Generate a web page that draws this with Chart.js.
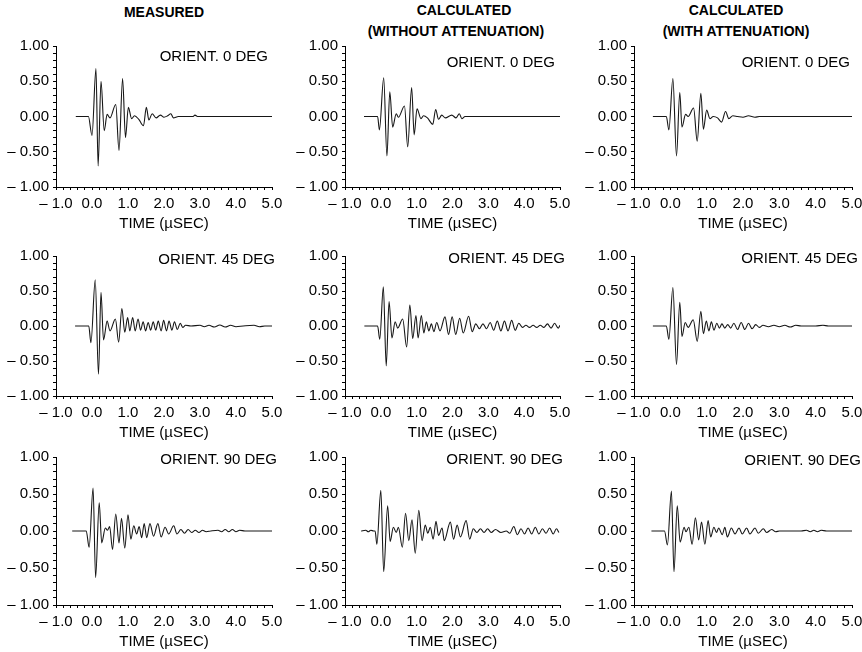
<!DOCTYPE html>
<html>
<head>
<meta charset="utf-8">
<script src="https://cdn.jsdelivr.net/npm/chart.js@4.4.1/dist/chart.umd.min.js"></script>
<style>
  body { margin: 0; background: #fff; width: 862px; height: 652px; position: relative; overflow: hidden;
         font-family: "Liberation Sans", Arial, sans-serif; }
  .head { position: absolute; font-weight: bold; font-size: 14px; line-height: 16px; white-space: nowrap;
          transform: translateX(-50%); color: #000; }
  .panel { position: absolute; }
</style>
</head>
<body>
<div class="head" style="left:164px;top:4px">MEASURED</div>
<div class="head" style="left:464px;top:2px">CALCULATED</div>
<div class="head" style="left:456px;top:23px">(WITHOUT ATTENUATION)</div>
<div class="head" style="left:736px;top:2px">CALCULATED</div>
<div class="head" style="left:736px;top:23px">(WITH ATTENUATION)</div>

<script>
// waveforms: [time in usec, amplitude]
const measured0 = [[-0.45,0],[-0.1,0],[0.0,-0.27],[0.11,0.68],[0.17,-0.70],[0.25,0.50],[0.34,-0.20],[0.42,0.03],[0.5,-0.02],
  [0.66,0.17],[0.75,-0.48],[0.85,0.54],[0.93,-0.30],[1.01,0.13],[1.1,-0.03],[1.18,0.01],[1.3,-0.04],[1.43,-0.13],[1.51,0.13],
  [1.58,-0.05],[1.67,0.04],[1.78,-0.02],[1.9,0.02],[2.0,-0.01],[2.1,0.01],[2.19,0.04],[2.26,-0.02],[2.4,0.0],[2.8,0.0],
  [2.86,0.02],[2.93,0.0],[5.0,0.0]];

const noAtten0 = [[-0.47,0],[-0.09,0],[-0.04,-0.19],[0.08,0.55],[0.17,-0.56],[0.25,0.35],[0.33,-0.15],[0.43,0.04],[0.49,-0.01],
  [0.66,0.15],[0.75,-0.43],[0.86,0.41],[0.93,-0.26],[1.01,0.11],[1.12,-0.03],[1.19,0.01],[1.3,-0.02],[1.45,-0.11],[1.53,0.10],
  [1.61,-0.04],[1.70,0.02],[1.8,-0.02],[1.98,0.02],[2.1,-0.02],[2.19,0.04],[2.26,-0.03],[2.35,0.0],[5.0,0.0]];

const withAtten0 = [[-0.48,0],[-0.11,0],[-0.04,-0.19],[0.07,0.54],[0.17,-0.56],[0.26,0.34],[0.32,-0.15],[0.42,0.03],[0.49,0.0],
  [0.64,0.12],[0.74,-0.35],[0.84,0.33],[0.91,-0.18],[1.0,0.09],[1.09,-0.03],[1.18,0.0],[1.3,-0.02],[1.41,-0.08],[1.52,0.07],
  [1.61,-0.03],[1.72,0.01],[1.85,0.0],[2.0,-0.01],[2.15,0.01],[2.33,-0.01],[2.45,0.0],[5.0,0.0]];

const measured45 = [[-0.47,0],[-0.09,0],[-0.03,-0.24],[0.09,0.66],[0.18,-0.69],[0.25,0.48],[0.32,-0.20],[0.42,0.07],[0.50,-0.07],
  [0.65,0.10],[0.74,-0.23],[0.83,0.25],[0.91,-0.09],[0.99,0.12],[1.05,-0.07],[1.13,0.12],[1.20,-0.07],[1.28,0.10],[1.35,-0.06],
  [1.42,0.06],[1.49,-0.07],[1.56,0.05],[1.63,-0.06],[1.70,0.06],[1.77,-0.06],[1.84,0.07],[1.92,-0.07],[1.99,0.08],[2.07,-0.07],
  [2.14,0.07],[2.22,-0.06],[2.29,0.06],[2.37,-0.05],[2.45,0.04],[2.52,-0.02],[2.6,0.01],[2.75,0.0],[3.0,0.01],[3.12,-0.01],
  [3.25,0.01],[3.4,-0.015],[3.55,0.015],[3.7,-0.015],[3.85,0.01],[4.0,-0.01],[4.2,0.0],[4.5,0.01],[4.65,-0.01],[4.8,0.0],[5.0,0.0]];

const noAtten45 = [[-0.46,0],[-0.09,0],[-0.03,-0.19],[0.07,0.56],[0.15,-0.57],[0.23,0.35],[0.31,-0.17],[0.40,0.06],[0.47,-0.03],
  [0.61,0.10],[0.72,-0.30],[0.81,0.30],[0.89,-0.18],[0.98,0.15],[1.04,-0.17],[1.13,0.15],[1.20,-0.10],[1.27,0.06],[1.34,-0.07],
  [1.41,0.03],[1.48,-0.08],[1.56,0.05],[1.65,-0.07],[1.79,0.13],[1.89,-0.12],[1.99,0.13],[2.09,-0.12],[2.2,0.11],[2.3,-0.10],
  [2.45,0.14],[2.55,-0.08],[2.65,0.03],[2.75,-0.04],[2.85,0.03],[2.95,-0.04],[3.05,0.05],[3.15,-0.06],[3.25,0.07],[3.35,-0.07],
  [3.45,0.07],[3.55,-0.07],[3.65,0.08],[3.75,-0.06],[3.85,0.04],[3.95,-0.02],[4.05,0.01],[4.15,-0.02],[4.25,0.01],[4.35,-0.02],
  [4.45,0.01],[4.55,-0.02],[4.65,0.03],[4.75,-0.03],[4.85,0.04],[4.95,-0.03],[5.0,0.01]];

const withAtten45 = [[-0.48,0],[-0.11,0],[-0.04,-0.19],[0.07,0.55],[0.17,-0.55],[0.26,0.34],[0.32,-0.15],[0.41,0.05],[0.49,-0.02],
  [0.63,0.09],[0.74,-0.22],[0.84,0.21],[0.91,-0.11],[0.99,0.07],[1.06,-0.07],[1.13,0.06],[1.20,-0.06],[1.28,0.04],[1.35,-0.03],
  [1.42,0.03],[1.5,-0.03],[1.58,0.02],[1.66,-0.03],[1.75,0.04],[1.85,-0.05],[1.95,0.05],[2.05,-0.05],[2.15,0.04],[2.25,-0.04],
  [2.35,0.02],[2.45,-0.02],[2.55,0.01],[2.7,-0.01],[2.85,0.01],[3.0,-0.01],[3.15,0.01],[3.3,-0.015],[3.45,0.01],[3.6,0.0],
  [4.0,0.0],[4.2,0.01],[4.35,0.0],[5.0,0.0]];

const measured90 = [[-0.55,0],[-0.16,0],[-0.08,-0.22],[0.03,0.58],[0.10,-0.63],[0.2,0.38],[0.27,-0.16],[0.37,0.04],[0.43,0.01],
  [0.49,0.06],[0.57,-0.25],[0.66,0.23],[0.75,-0.16],[0.82,0.17],[0.91,-0.23],[1.0,0.22],[1.08,-0.11],[1.16,0.07],[1.24,-0.04],
  [1.31,0.06],[1.38,-0.09],[1.45,0.10],[1.52,-0.09],[1.61,0.10],[1.71,-0.07],[1.83,0.10],[1.92,-0.08],[2.03,0.05],[2.13,-0.04],
  [2.27,0.07],[2.36,-0.04],[2.47,0.02],[2.57,-0.03],[2.67,0.02],[2.77,-0.02],[2.87,0.01],[2.97,-0.02],[3.07,0.01],[3.17,-0.01],
  [3.3,0.0],[3.5,0.01],[3.6,-0.01],[3.7,0.02],[3.8,-0.01],[3.9,0.02],[4.0,-0.01],[4.1,0.01],[4.25,0.0],[5.0,0.0]];

const noAtten90 = [[-0.55,0],[-0.42,0.01],[-0.35,-0.01],[-0.28,0.01],[-0.2,0],[-0.16,0],[-0.11,-0.18],[0.0,0.55],[0.08,-0.55],
  [0.19,0.34],[0.26,-0.14],[0.35,0.05],[0.43,-0.02],[0.49,0.05],[0.60,-0.22],[0.69,0.24],[0.78,-0.13],[0.87,0.15],[0.96,-0.30],
  [1.06,0.28],[1.15,-0.13],[1.24,0.08],[1.31,-0.03],[1.38,0.05],[1.46,-0.11],[1.54,0.13],[1.61,-0.06],[1.71,0.04],[1.77,-0.13],
  [1.94,0.12],[2.03,-0.11],[2.13,0.08],[2.22,-0.08],[2.38,0.14],[2.48,-0.11],[2.58,0.03],[2.68,-0.02],[2.78,0.03],[2.88,-0.02],
  [2.98,0.03],[3.08,-0.02],[3.2,0.02],[3.35,-0.02],[3.5,0.0],[3.6,-0.03],[3.71,0.06],[3.81,-0.05],[3.91,0.03],[4.01,-0.04],
  [4.11,0.04],[4.21,-0.04],[4.31,0.05],[4.41,-0.04],[4.51,0.03],[4.61,-0.03],[4.71,0.04],[4.81,-0.04],[4.9,0.03],[4.97,-0.02]];

const withAtten90 = [[-0.52,0],[-0.16,0],[-0.08,-0.19],[0.03,0.54],[0.10,-0.55],[0.19,0.34],[0.27,-0.15],[0.38,0.05],[0.43,-0.01],
  [0.51,0.05],[0.60,-0.18],[0.69,0.18],[0.78,-0.12],[0.86,0.12],[0.95,-0.18],[1.04,0.14],[1.11,-0.08],[1.20,0.05],[1.27,-0.02],
  [1.33,0.04],[1.43,-0.05],[1.50,0.05],[1.57,-0.08],[1.68,0.04],[1.78,-0.04],[1.89,0.04],[1.98,-0.04],[2.1,0.04],[2.19,-0.04],
  [2.33,0.04],[2.42,-0.03],[2.56,0.03],[2.65,-0.02],[2.79,0.02],[2.9,-0.01],[3.0,0.0],[3.6,0.0],[3.75,0.01],[3.85,-0.01],
  [3.95,0.01],[4.05,-0.01],[4.15,0.01],[4.3,0.0],[5.0,0.0]];

const orientLabels = ['ORIENT. 0 DEG', 'ORIENT. 45 DEG', 'ORIENT. 90 DEG'];
const xTitle = 'TIME (\u00b5SEC)';

// major/minor tick positions
const xTicks = [];
for (let i = 0; i <= 30; i++) xTicks.push(Math.round((-1 + i * 0.2) * 10) / 10);
const yTicks = [];
for (let i = 0; i <= 20; i++) yTicks.push(Math.round((-1 + i * 0.1) * 10) / 10);

// plot area edges in page pixels
const colX = [[56, 272], [345, 560], [634, 852]];
const rowY = [[46, 187], [256, 396], [457, 605]];
// orient label offsets from plot top-right corner
const labelOff = [
  [[-4, 11], [-5, 17], [-2, 17]],
  [[3, 4], [5, 3], [6, 3]],
  [[5, 3], [3, 3], [9, 4]]
];

const grid = [
  [measured0, noAtten0, withAtten0],
  [measured45, noAtten45, withAtten45],
  [measured90, noAtten90, withAtten90]
];

Chart.defaults.font.family = '"Liberation Sans", Arial, sans-serif';
Chart.defaults.color = '#000';

const LEFT = 56, TOP = 15, RIGHT = 20, BOTTOM = 48;

function fmt(v, d) {
  const s = Math.abs(v).toFixed(d);
  return v < -1e-9 ? '\u2013 ' + s : s;
}

const orientPlugin = {
  id: 'orient',
  afterDatasetsDraw(chart, args, opts) {
    const ctx = chart.ctx, a = chart.chartArea;
    ctx.save();
    ctx.font = '15px "Liberation Sans", Arial, sans-serif';
    ctx.fillStyle = '#000';
    ctx.textAlign = 'right';
    ctx.textBaseline = 'middle';
    ctx.fillText(opts.text, a.right + opts.dx, a.top + opts.dy);
    ctx.restore();
  }
};

for (let r = 0; r < 3; r++) {
  for (let c = 0; c < 3; c++) {
    const [x0, x1] = colX[c], [y0, y1] = rowY[r];
    const div = document.createElement('div');
    div.className = 'panel';
    div.style.left = (x0 - LEFT) + 'px';
    div.style.top = (y0 - TOP) + 'px';
    const cv = document.createElement('canvas');
    cv.width = (x1 - x0) + LEFT + RIGHT;
    cv.height = (y1 - y0) + TOP + BOTTOM;
    div.appendChild(cv);
    document.body.appendChild(div);

    new Chart(cv, {
      type: 'line',
      data: {
        datasets: [{
          data: grid[r][c].map(p => ({ x: p[0], y: p[1] })),
          borderColor: '#161616',
          borderWidth: 1.1,
          pointRadius: 0,
          cubicInterpolationMode: 'monotone',
          fill: false
        }]
      },
      options: {
        responsive: false,
        animation: false,
        events: [],
        layout: { padding: { top: TOP, right: RIGHT, left: 0, bottom: 0 } },
        plugins: {
          legend: { display: false },
          tooltip: { enabled: false },
          orient: { text: orientLabels[r], dx: labelOff[r][c][0], dy: labelOff[r][c][1] }
        },
        scales: {
          x: {
            type: 'linear', min: -1, max: 5,
            afterBuildTicks: s => { s.ticks = xTicks.map(v => ({ value: v })); },
            afterFit: s => { s.height = BOTTOM; },
            grid: { display: true, drawOnChartArea: false, drawTicks: true, tickLength: 3, color: '#000' },
            border: { display: true, color: '#000', width: 1 },
            ticks: {
              autoSkip: false, maxRotation: 0, padding: 5, font: { size: 15 },
              callback: v => Math.abs(v - Math.round(v)) < 1e-6 ? fmt(v, 1) : ''
            },
            title: { display: true, text: xTitle, font: { size: 15 }, padding: { top: 0, bottom: 2 } }
          },
          y: {
            type: 'linear', min: -1, max: 1,
            afterBuildTicks: s => { s.ticks = yTicks.map(v => ({ value: v })); },
            afterFit: s => { s.width = LEFT; },
            grid: { display: true, drawOnChartArea: false, drawTicks: true, tickLength: 3, color: '#000' },
            border: { display: true, color: '#000', width: 1 },
            ticks: {
              autoSkip: false, padding: 4, font: { size: 15 },
              callback: v => Math.abs(Math.round(v * 10) % 5) === 0 ? fmt(v, 2) : ''
            }
          }
        }
      },
      plugins: [orientPlugin]
    });
  }
}
</script>
</body>
</html>
